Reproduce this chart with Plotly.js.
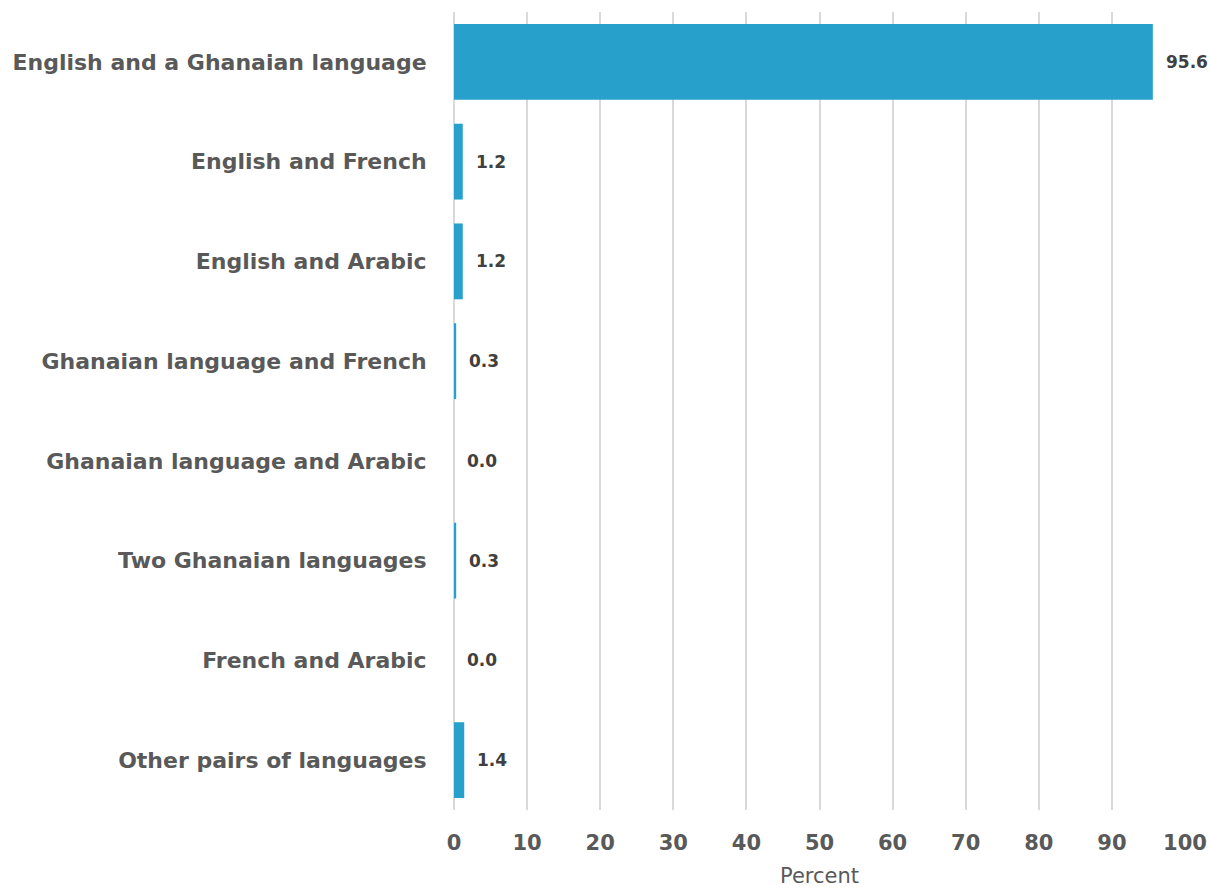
<!DOCTYPE html>
<html>
<head>
<meta charset="utf-8">
<script src="https://cdn.plot.ly/plotly-3.0.1.min.js"></script>
<style>html,body{margin:0;padding:0;background:#fff;}#chart{width:1211px;height:888px;}</style>
</head>
<body>
<div id="chart"></div>
<script>
const categories = [
  "English and a Ghanaian language",
  "English and French",
  "English and Arabic",
  "Ghanaian language and French",
  "Ghanaian language and Arabic",
  "Two Ghanaian languages",
  "French and Arabic",
  "Other pairs of languages"
];
const values = [95.6, 1.2, 1.2, 0.3, 0.0, 0.3, 0.0, 1.4];
const xTicks = [0, 10, 20, 30, 40, 50, 60, 70, 80, 90, 100];

const FONT = "'DejaVu Sans', 'Open Sans', sans-serif";

const trace = {
  type: 'bar',
  orientation: 'h',
  x: values,
  y: categories,
  marker: {color: '#27a0cc', line: {width: 0}},
  hoverinfo: 'none'
};

const annotations = categories.map((c, i) => ({
  x: values[i], y: c, xref: 'x', yref: 'y',
  text: values[i].toFixed(1),
  showarrow: false, xanchor: 'left', xshift: 11,
  font: {family: FONT, size: 17, color: '#404040', weight: 'bold'}
}));

const layout = {
  width: 1211, height: 888,
  margin: {l: 454, r: 26, t: 12, b: 78},
  paper_bgcolor: '#fff', plot_bgcolor: '#fff',
  showlegend: false,
  bargap: 0.24,
  font: {family: FONT, color: '#595959'},
  xaxis: {
    range: [0, 100],
    tickvals: xTicks,
    ticktext: xTicks.map(String),
    showgrid: true, gridcolor: '#d9d9d9', gridwidth: 2,
    zeroline: true, zerolinecolor: '#d9d9d9', zerolinewidth: 2,
    showline: false,
    ticks: 'outside', ticklen: 14, tickcolor: 'rgba(0,0,0,0)',
    tickfont: {family: FONT, size: 21, color: '#595959', weight: 'bold'},
    title: {text: 'Percent', font: {family: FONT, size: 21, color: '#595959'}, standoff: 14},
    fixedrange: true
  },
  yaxis: {
    autorange: 'reversed',
    showgrid: false, zeroline: false, showline: false,
    ticks: 'outside', ticklen: 22, tickcolor: 'rgba(0,0,0,0)',
    tickfont: {family: FONT, size: 22, color: '#595959', weight: 'bold'},
    fixedrange: true
  },
  annotations: annotations
};

Plotly.newPlot('chart', [trace], layout, {displayModeBar: false, staticPlot: true});
</script>
</body>
</html>
